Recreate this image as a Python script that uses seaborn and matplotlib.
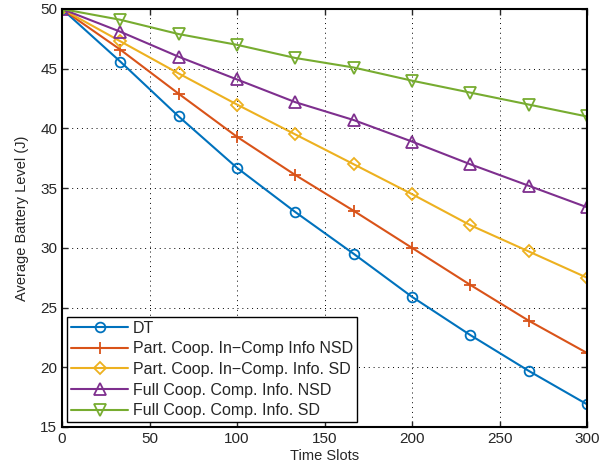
import seaborn as sns
import matplotlib
matplotlib.use("Agg")
import matplotlib.pyplot as plt

# marker positions (time slots)
slots = [0, 33.3, 66.7, 100, 133.3, 166.7, 200, 233.3, 266.7, 300]

dt = [50, 45.6, 41.0, 36.7, 33.0, 29.5, 25.9, 22.7, 19.7, 16.9]
part_nsd = [50, 46.6, 42.9, 39.3, 36.1, 33.1, 30.0, 26.9, 23.9, 21.2]
part_sd = [50, 47.3, 44.6, 42.0, 39.5, 37.0, 34.5, 31.9, 29.7, 27.5]
full_nsd = [50, 48.1, 46.0, 44.1, 42.2, 40.7, 38.9, 37.0, 35.2, 33.4]
full_sd = [50, 49.1, 47.9, 47.0, 45.9, 45.1, 44.0, 43.0, 42.0, 41.0]

labels = [
    "DT",
    "Part. Coop. In\u2212Comp Info NSD",
    "Part. Coop. In\u2212Comp. Info. SD",
    "Full Coop. Comp. Info. NSD",
    "Full Coop. Comp. Info. SD",
]
series = [dt, part_nsd, part_sd, full_nsd, full_sd]
colors = ["#0072BD", "#D95319", "#EDB120", "#7E2F8E", "#77AC30"]
markers = ["o", "+", "D", "^", "v"]
msizes = [7, 8, 6, 8, 8]

sns.set_style("ticks")
plt.rcParams["font.family"] = ["Liberation Sans", "DejaVu Sans"]

fig = plt.figure(figsize=(6.08, 4.68), dpi=100)
# axes box: x 62..587 px, y 9..427 px
ax = fig.add_axes([62 / 608, 1 - 427 / 468, 525 / 608, 418 / 468])

for y, lab, c, m, ms in zip(series, labels, colors, markers, msizes):
    sns.lineplot(x=slots, y=y, ax=ax, color=c, label=lab, marker=m,
                 markersize=ms, markerfacecolor="none", markeredgecolor=c,
                 markeredgewidth=1.3, linewidth=1.5)

ax.set_xlim(0, 300)
ax.set_ylim(15, 50)
ax.set_xticks(range(0, 301, 50))
ax.set_yticks(range(15, 51, 5))
ax.tick_params(direction="in", top=True, right=True, labelsize=11, length=4, width=1)
ax.grid(True, linestyle=(0, (1, 4)), color="black", linewidth=0.7)
for s in ax.spines.values():
    s.set_linewidth(1.5)
    s.set_color("black")
ax.set_xlabel("Time Slots", fontsize=10.5, labelpad=2)
ax.set_ylabel("Average Battery Level (J)", fontsize=10.5, labelpad=8)

leg = ax.legend(loc="lower left", fontsize=11.5, handlelength=3.6, borderpad=0.25,
                labelspacing=0.35, handletextpad=0.3, borderaxespad=0.3,
                fancybox=False, framealpha=1, edgecolor="black")
leg.get_frame().set_linewidth(1.0)

fig.savefig("out.png", dpi=100)
